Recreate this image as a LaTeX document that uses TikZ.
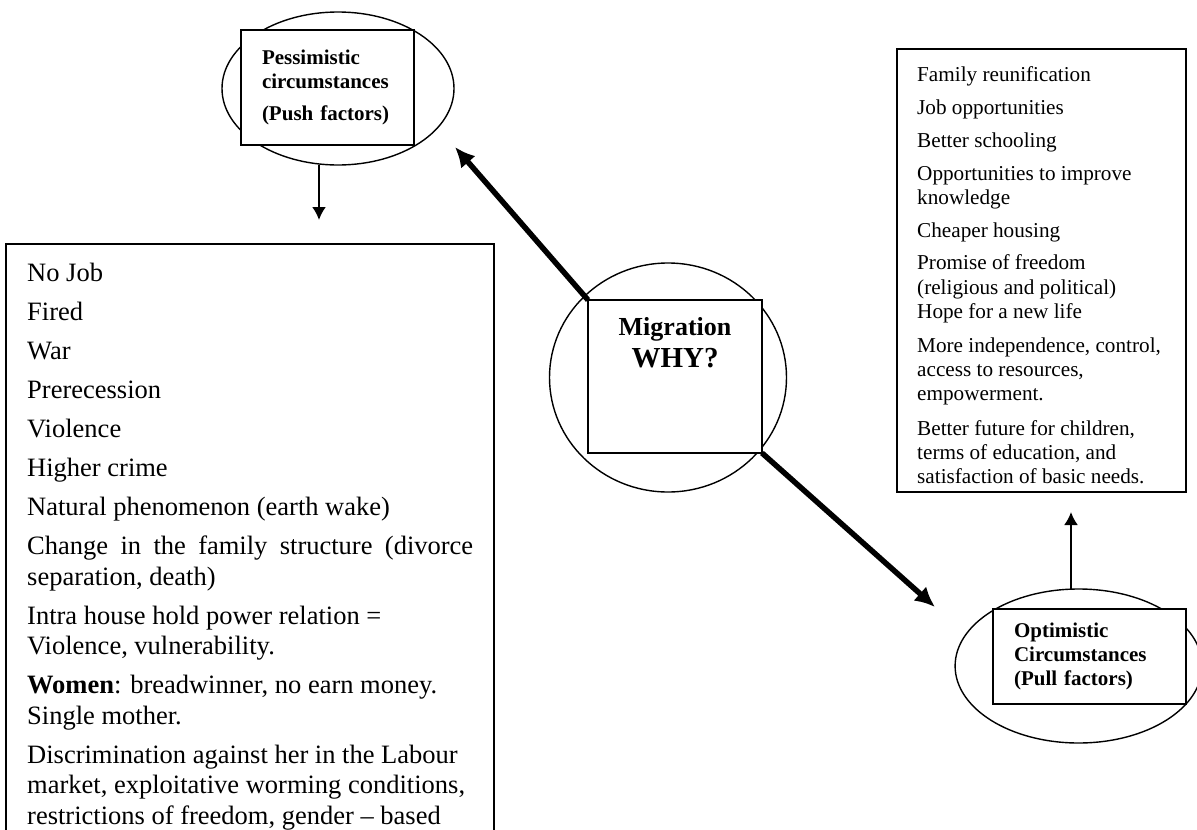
\documentclass[tikz,border=0pt]{standalone}
\usepackage{fontspec}
\setmainfont{Liberation Serif}
\usetikzlibrary{arrows.meta,positioning,shapes.geometric}

\begin{document}
\begin{tikzpicture}[
  x=1pt, y=-1pt,
  oval/.style={draw, ellipse, line width=1.4pt, inner sep=0pt, outer sep=0pt},
  tag/.style={draw, fill=white, line width=1.8pt, outer sep=0pt, align=left, font=\bfseries\fontsize{21}{24}\selectfont},
  frame/.style={draw, line width=1.8pt, outer sep=0pt, inner sep=0pt},
  items/.style={align=left, inner sep=0pt},
  arr/.style={-{Latex[length=13pt,width=14pt]}, line width=2pt},
  bigarr/.style={-{Latex[length=20pt,width=19pt]}, line width=5.5pt}
]
  \useasboundingbox (0,0) rectangle (1197,830);

  \node[oval, minimum width=232pt, minimum height=153pt] (pushell) at (338,88.5) {};
  \node[tag, minimum width=173pt, minimum height=115pt, text width=131pt, inner xsep=21pt] (push) at (327.5,87.5) {Pessimistic\\circumstances\\[8pt](Push factors)};

  \node[oval, minimum width=237pt, minimum height=229pt] (migell) at (668,377.5) {};
  \node[tag, minimum width=174pt, minimum height=153pt] (mig) at (675,376.5) {};
  \node[items, align=center, font=\bfseries, below=17pt of mig.north] (migtext) {{\fontsize{26}{28}\selectfont Migration}\\[6pt]{\fontsize{29}{35}\selectfont WHY?}};

  \node[oval, minimum width=247pt, minimum height=154pt] (pullell) at (1078.6,666) {};
  \node[tag, minimum width=193pt, minimum height=95pt, text width=151pt, inner xsep=21pt] (pull) at (1089.5,656.5) {Optimistic\\Circumstances\\(Pull factors)};

  \node[frame, anchor=north west, minimum width=488pt, minimum height=620pt] (pushlist) at (6,244) {};
  \node[items, font=\fontsize{26.5}{30.5}\selectfont, below right=19pt and 21pt of pushlist.north west] (pushtext) {No Job\\[8.5pt]
    Fired\\[8.5pt]
    War\\[8.5pt]
    Prerecession\\[8.5pt]
    Violence\\[8.5pt]
    Higher crime\\[8.5pt]
    Natural phenomenon (earth wake)\\[8.5pt]
    \makebox[446pt][s]{Change in the family structure (divorce}\\
    separation, death)\\[8.5pt]
    Intra house hold power relation =\\
    Violence, vulnerability.\\[8.5pt]
    \textbf{Women}: breadwinner, no earn money.\\
    Single mother.\\[8.5pt]
    Discrimination against her in the Labour\\
    market, exploitative worming conditions,\\
    restrictions of freedom, gender -- based};

  \node[frame, anchor=north west, minimum width=289pt, minimum height=443pt] (pulllist) at (897,49) {};
  \node[items, font=\fontsize{21.2}{24.3}\selectfont, below right=17.5pt and 20pt of pulllist.north west] (pulltext) {Family reunification\\[8.5pt]
    Job opportunities\\[8.5pt]
    Better schooling\\[8.5pt]
    Opportunities to improve\\
    knowledge\\[8.5pt]
    Cheaper housing\\[8.5pt]
    Promise of freedom\\
    (religious and political)\\
    Hope for a new life\\[9.5pt]
    More independence, control,\\
    access to resources,\\
    empowerment.\\[10pt]
    Better future for children,\\
    terms of education, and\\
    satisfaction of basic needs.};

  \coordinate (pushgo) at (319,220);
  \coordinate (pullgo) at (1071,512);
  \coordinate (pushtip) at (455,147);
  \coordinate (pulltip) at (935,607);

  \draw[arr] (pushell.south -| pushgo) -- (pushgo);
  \draw[arr] (pullell.north -| pullgo) -- (pullgo);
  \draw[bigarr] (mig.north west) -- (pushtip);
  \draw[bigarr] (mig.south east) -- (pulltip);
\end{tikzpicture}
\end{document}
